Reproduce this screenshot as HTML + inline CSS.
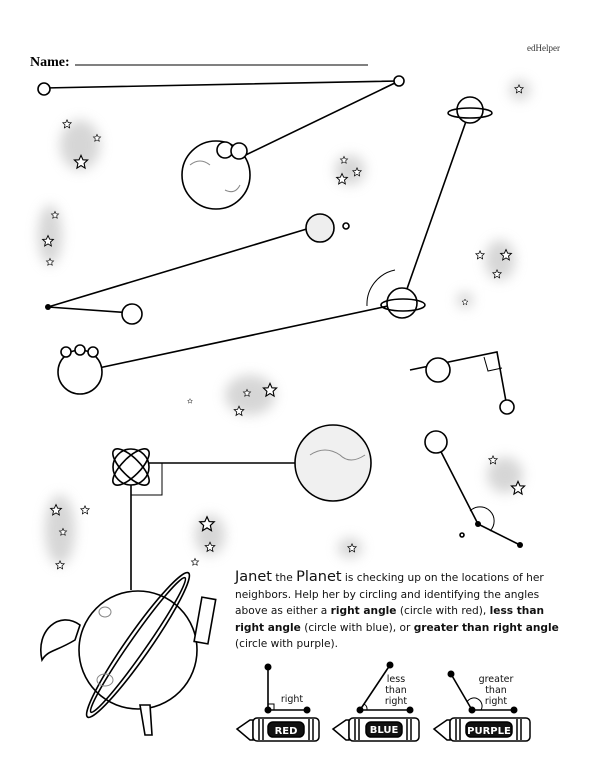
<!DOCTYPE html>
<html><head><meta charset="utf-8"><style>
body{margin:0;background:#fff;}
.w{position:relative;width:600px;height:776px;overflow:hidden;font-family:"DejaVu Sans","Liberation Sans",sans-serif;}
.t{position:absolute;left:235px;top:569px;width:330px;font-size:10.6px;line-height:16.6px;color:#111;}
.big{font-size:14.5px;}
</style></head><body><div class="w">
<svg width="600" height="776" style="position:absolute;left:0;top:0">
<defs>
<filter id="bl" x="-50%" y="-50%" width="200%" height="200%"><feGaussianBlur stdDeviation="6"/></filter>
<g id="st"><polygon points="0,-6 1.8,-2 6,-1.8 2.8,1.2 3.7,5.5 0,3.2 -3.7,5.5 -2.8,1.2 -6,-1.8 -1.8,-2" fill="#fff" stroke="#000" stroke-width="1"/></g>
</defs>
<text x="30" y="66" font-family="Liberation Serif" font-weight="bold" font-size="14">Name:</text>
<line x1="75" y1="65" x2="368" y2="65" stroke="#000" stroke-width="1"/>
<text x="527" y="51" font-family="Liberation Serif" font-size="9" fill="#333">edHelper</text>
<g fill="#ccc" filter="url(#bl)" opacity="0.8">
<ellipse cx="80" cy="145" rx="20" ry="25"/><ellipse cx="50" cy="235" rx="12" ry="30"/><ellipse cx="350" cy="170" rx="15" ry="15"/>
<ellipse cx="500" cy="260" rx="15" ry="20"/><ellipse cx="250" cy="395" rx="25" ry="20"/><ellipse cx="60" cy="530" rx="15" ry="35"/>
<ellipse cx="210" cy="535" rx="15" ry="20"/><ellipse cx="505" cy="475" rx="18" ry="18"/><ellipse cx="350" cy="548" rx="12" ry="10"/>
<ellipse cx="520" cy="90" rx="10" ry="10"/><ellipse cx="465" cy="300" rx="8" ry="8"/>
</g>
<g>
<use href="#st" transform="translate(67,124) scale(.7)"/><use href="#st" transform="translate(97,138) scale(.6)"/><use href="#st" transform="translate(81,162) scale(1.1)"/>
<use href="#st" transform="translate(55,215) scale(.6)"/><use href="#st" transform="translate(48,241) scale(.9)"/><use href="#st" transform="translate(50,262) scale(.6)"/>
<use href="#st" transform="translate(344,160) scale(.6)"/><use href="#st" transform="translate(357,172) scale(.7)"/><use href="#st" transform="translate(342,179) scale(.9)"/>
<use href="#st" transform="translate(519,89) scale(.7)"/><use href="#st" transform="translate(480,255) scale(.7)"/><use href="#st" transform="translate(506,255) scale(.9)"/><use href="#st" transform="translate(497,274) scale(.7)"/><use href="#st" transform="translate(465,302) scale(.5)"/>
<use href="#st" transform="translate(270,390) scale(1.1)"/><use href="#st" transform="translate(247,393) scale(.6)"/><use href="#st" transform="translate(239,411) scale(.8)"/><use href="#st" transform="translate(190,401) scale(.4)"/>
<use href="#st" transform="translate(56,510) scale(.9)"/><use href="#st" transform="translate(85,510) scale(.7)"/><use href="#st" transform="translate(63,532) scale(.6)"/><use href="#st" transform="translate(60,565) scale(.7)"/>
<use href="#st" transform="translate(207,524) scale(1.2)"/><use href="#st" transform="translate(210,547) scale(.8)"/><use href="#st" transform="translate(195,562) scale(.6)"/>
<use href="#st" transform="translate(352,548) scale(.7)"/><use href="#st" transform="translate(493,460) scale(.7)"/><use href="#st" transform="translate(518,488) scale(1.1)"/>
</g>
<g stroke="#000" stroke-width="1.6" fill="none">
<polyline points="44,88 399,81 225,165"/>
<polyline points="470,110 402,303 80,372"/>
<polyline points="310,228 48,307 132,313"/>
<polyline points="410,370 497,352 507,407"/>
<polyline points="333,463 131,463 131,590"/>
<polyline points="436,442 478,524 520,545"/>
<rect x="131" y="463" width="31" height="32" stroke-width="1"/>
<polyline points="484,357 488,371 502,368" stroke-width="1"/>
<path d="M470,511 A14,14 0 0 1 490,531" stroke-width="1"/>
<path d="M367,306 A35,35 0 0 1 395,270" stroke-width="1"/>
</g>
<g fill="#000"><circle cx="478" cy="524" r="3"/><circle cx="520" cy="545" r="3"/><circle cx="48" cy="307" r="3"/></g>
<g stroke="#000" stroke-width="1.6" fill="#fff">
<circle cx="44" cy="89" r="6"/><circle cx="399" cy="81" r="5"/>
<circle cx="216" cy="175" r="34"/><circle cx="225" cy="150" r="8"/><circle cx="239" cy="151" r="8"/>
<circle cx="470" cy="110" r="13"/><ellipse cx="470" cy="113" rx="22" ry="5" fill="none"/>
<circle cx="402" cy="303" r="15"/><ellipse cx="403" cy="305" rx="22" ry="6" fill="none"/>
<circle cx="320" cy="228" r="14" fill="#eee"/><circle cx="346" cy="226" r="3"/>
<circle cx="132" cy="314" r="10"/>
<circle cx="80" cy="372" r="22"/><circle cx="66" cy="352" r="5"/><circle cx="80" cy="350" r="5"/><circle cx="93" cy="352" r="5"/>
<circle cx="438" cy="370" r="12"/><circle cx="507" cy="407" r="7"/>
<circle cx="131" cy="467" r="18"/><ellipse cx="131" cy="467" rx="24" ry="9" fill="none" transform="rotate(45 131 467)"/><ellipse cx="131" cy="467" rx="24" ry="9" fill="none" transform="rotate(-45 131 467)"/>
<circle cx="333" cy="463" r="38" fill="#f0f0f0"/>
<circle cx="436" cy="442" r="11"/>
<circle cx="138" cy="650" r="59"/>
<ellipse cx="138" cy="645" rx="88" ry="12" fill="none" transform="rotate(-55 138 645)"/>
<ellipse cx="138" cy="645" rx="82" ry="8" fill="none" transform="rotate(-55 138 645)"/>
<path d="M80,625 C60,610 35,630 42,660 C48,650 55,652 75,640Z"/>
<rect x="198" y="598" width="14" height="45" transform="rotate(10 205 620)"/>
<path d="M140,705 L145,735 L152,735 L150,705Z"/>
<circle cx="462" cy="535" r="2"/>
</g>
<g stroke="#888" stroke-width="1" fill="none">
<path d="M190,165 q10,-8 20,0 M225,190 q10,5 15,-5"/><path d="M310,455 q15,-10 30,0 q10,10 25,0"/><ellipse cx="105" cy="680" rx="8" ry="6"/><ellipse cx="105" cy="612" rx="6" ry="5"/>
</g>
<g stroke="#000" stroke-width="1.6" fill="none">
<polyline points="268,667 268,710 307,710"/><polyline points="268,704 274,704 274,710" stroke-width="1"/>
<polyline points="390,665 360,710 410,710"/><path d="M364,704 A6,6 0 0 1 367,710" stroke-width="1"/>
<polyline points="451,674 472,710 514,710"/><path d="M467,702 A8,8 0 0 1 481,710" stroke-width="1"/>
</g>
<g fill="#000"><circle cx="268" cy="667" r="3.5"/><circle cx="268" cy="710" r="3.5"/><circle cx="307" cy="710" r="3.5"/>
<circle cx="390" cy="665" r="3.5"/><circle cx="360" cy="710" r="3.5"/><circle cx="410" cy="710" r="3.5"/>
<circle cx="451" cy="674" r="3.5"/><circle cx="472" cy="710" r="3.5"/><circle cx="514" cy="710" r="3.5"/></g>
<g font-family="DejaVu Sans" font-size="9.5" text-anchor="middle" fill="#111">
<text x="292" y="702">right</text>
<text x="396" y="682">less</text><text x="396" y="693">than</text><text x="396" y="704">right</text>
<text x="496" y="682">greater</text><text x="496" y="693">than</text><text x="496" y="704">right</text>
</g>
<g stroke="#000" stroke-width="1.5">
<g><path d="M237,729 L250,720 L253,720 L253,740 L250,740Z" fill="#fff"/><rect x="253" y="718" width="66" height="23" rx="4" fill="#fff"/><rect x="268" y="722" width="36" height="15" rx="5" fill="#111"/><path d="M259,719 v21 M263,719 v21 M309,719 v21 M313,719 v21"/></g>
<g><path d="M333,729 L346,720 L349,720 L349,740 L346,740Z" fill="#fff"/><rect x="349" y="718" width="70" height="23" rx="4" fill="#fff"/><rect x="366" y="722" width="36" height="15" rx="5" fill="#111"/><path d="M355,719 v21 M359,719 v21 M407,719 v21 M411,719 v21"/></g>
<g><path d="M434,729 L447,720 L450,720 L450,740 L447,740Z" fill="#fff"/><rect x="450" y="718" width="80" height="23" rx="4" fill="#fff"/><rect x="466" y="722" width="46" height="15" rx="5" fill="#111"/><path d="M456,719 v21 M460,719 v21 M517,719 v21 M521,719 v21"/></g>
</g>
<g font-family="DejaVu Sans" font-weight="bold" font-size="10" fill="#fff" text-anchor="middle">
<text x="286" y="734">RED</text><text x="384" y="733">BLUE</text><text x="489" y="734">PURPLE</text>
</g>
</svg>
<div class="t"><span class="big">Janet</span> the <span class="big">Planet</span> is checking up on the locations of her neighbors. Help her by circling and identifying the angles above as either a <b>right angle</b> (circle with red), <b>less than right angle</b> (circle with blue), or <b>greater than right angle</b> (circle with purple).</div>
</div></body></html>
